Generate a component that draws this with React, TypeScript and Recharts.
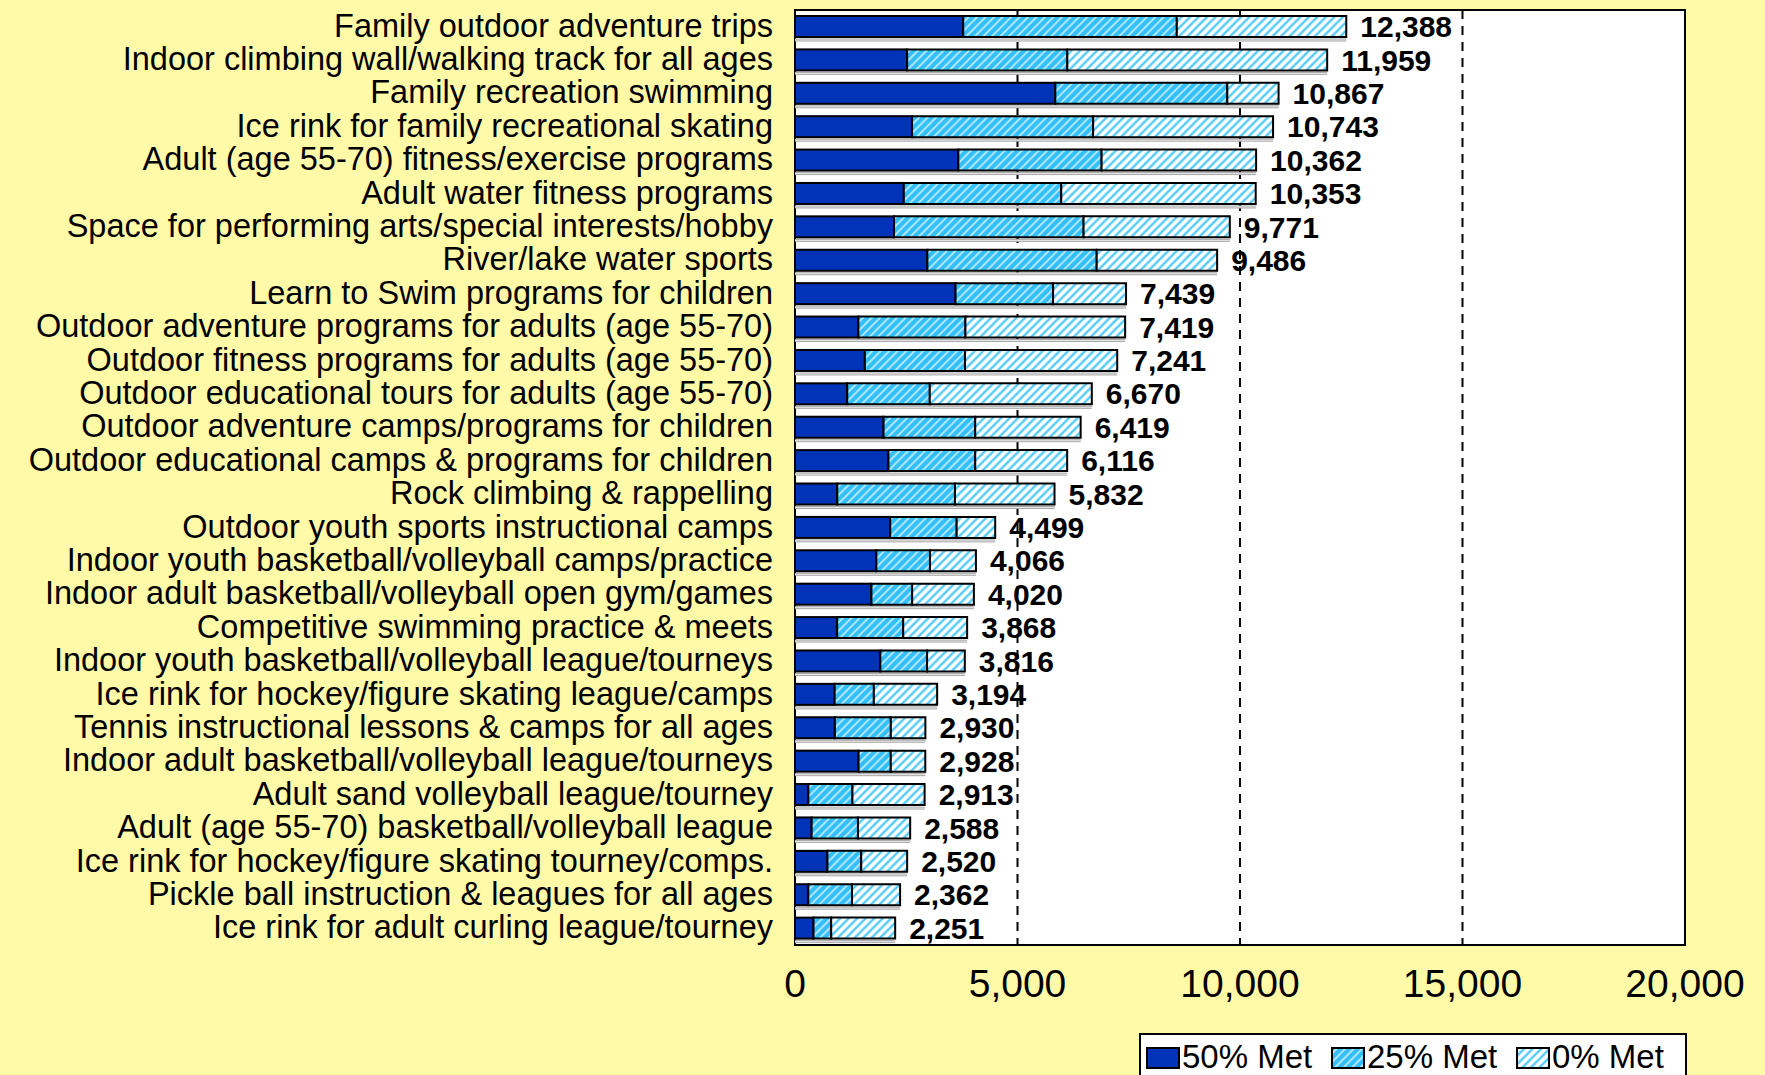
import React from 'react';
import { BarChart, Bar, XAxis, YAxis, CartesianGrid, LabelList, ReferenceArea } from 'recharts';

const FONT = "'Liberation Sans', Arial, sans-serif";

const categories = [
  'Family outdoor adventure trips',
  'Indoor climbing wall/walking track for all ages',
  'Family recreation swimming',
  'Ice rink for family recreational skating',
  'Adult (age 55-70) fitness/exercise programs',
  'Adult water fitness programs',
  'Space for performing arts/special interests/hobby',
  'River/lake water sports',
  'Learn to Swim programs for children',
  'Outdoor adventure programs for adults (age 55-70)',
  'Outdoor fitness programs for adults (age 55-70)',
  'Outdoor educational tours for adults (age 55-70)',
  'Outdoor adventure camps/programs for children',
  'Outdoor educational camps & programs for children',
  'Rock climbing & rappelling',
  'Outdoor youth sports instructional camps',
  'Indoor youth basketball/volleyball camps/practice',
  'Indoor adult basketball/volleyball open gym/games',
  'Competitive swimming practice & meets',
  'Indoor youth basketball/volleyball league/tourneys',
  'Ice rink for hockey/figure skating league/camps',
  'Tennis instructional lessons & camps for all ages',
  'Indoor adult basketball/volleyball league/tourneys',
  'Adult sand volleyball league/tourney',
  'Adult (age 55-70) basketball/volleyball league',
  'Ice rink for hockey/figure skating tourney/comps.',
  'Pickle ball instruction & leagues for all ages',
  'Ice rink for adult curling league/tourney',
];

const met50 = [3780, 2520, 5850, 2630, 3670, 2445, 2225, 2975, 3608, 1424, 1570, 1174, 1990, 2100, 950, 2140, 1828, 1718, 947, 1918, 891, 896, 1428, 300, 374, 729, 298, 416];
const met25 = [4800, 3600, 3865, 4070, 3220, 3538, 4260, 3805, 2192, 2406, 2250, 1855, 2060, 1950, 2645, 1493, 1205, 915, 1485, 1050, 881, 1258, 725, 991, 1041, 759, 983, 397];
const met0 = [3808, 5839, 1152, 4043, 3472, 4370, 3286, 2706, 1639, 3589, 3421, 3641, 2369, 2066, 2237, 866, 1033, 1387, 1436, 848, 1422, 776, 775, 1622, 1173, 1032, 1081, 1438];
const totals = [12388, 11959, 10867, 10743, 10362, 10353, 9771, 9486, 7439, 7419, 7241, 6670, 6419, 6116, 5832, 4499, 4066, 4020, 3868, 3816, 3194, 2930, 2928, 2913, 2588, 2520, 2362, 2251];

const xTicks = [0, 5000, 10000, 15000, 20000];

const series = [
  { key: 'm50', name: '50% Met', fill: '#0033B8' },
  { key: 'm25', name: '25% Met', fill: 'url(#hatch25)' },
  { key: 'm0', name: '0% Met', fill: 'url(#hatch0)' },
];

const rows = categories.map((name, i) => ({
  name,
  m50: met50[i],
  m25: met25[i],
  m0: met0[i],
  total: totals[i],
}));

const fmt = (v: number) => v.toLocaleString('en-US');

// first segment also draws the grey ledge under the whole bar
const FirstSegment = (props: any) => {
  const { x, y, width, height, payload, fill } = props;
  const full = payload && payload.m50 ? (width * payload.total) / payload.m50 : width;
  return (
    <g>
      <rect x={x} y={y + height + 1.5} width={full} height={3} fill="#a8a8a8" />
      <rect x={x} y={y + height + 2.5} width={full} height={1} fill="#e8e8e8" />
      <rect x={x} y={y} width={width} height={height} fill={fill} stroke="#000" strokeWidth={2} />
    </g>
  );
};

const CategoryTick = (props: any) => (
  <text x={props.x} y={props.y} dy={10} textAnchor="end" fontFamily={FONT} fontSize={32.5} fill="#000">
    {props.payload.value}
  </text>
);

const ValueTick = (props: any) => (
  <text x={props.x} y={props.y} dy={50} textAnchor="middle" fontFamily={FONT} fontSize={39} fill="#000">
    {fmt(props.payload.value)}
  </text>
);

export default function App() {
  return (
    <div style={{ position: 'relative', width: 1765, height: 1075, overflow: 'hidden', background: '#FFFAA8' }}>
      <style>{'body{margin:0}'}</style>
      <svg width={0} height={0} style={{ position: 'absolute' }}>
        <defs>
          <pattern id="hatch25" width={6} height={6} patternUnits="userSpaceOnUse" patternTransform="rotate(45)">
            <rect width={6} height={6} fill="#33C0FA" />
            <line x1={1} y1={0} x2={1} y2={6} stroke="#ffffff" strokeWidth={1.2} />
          </pattern>
          <pattern id="hatch0" width={6} height={6} patternUnits="userSpaceOnUse" patternTransform="rotate(45)">
            <rect width={6} height={6} fill="#ffffff" />
            <line x1={1.5} y1={0} x2={1.5} y2={6} stroke="#44C6F8" strokeWidth={2.2} />
          </pattern>
        </defs>
      </svg>
      <BarChart
        width={1765}
        height={1075}
        data={rows}
        layout="vertical"
        margin={{ top: 10, right: 80, bottom: 70, left: 0 }}
        barCategoryGap="18%"
      >
        <CartesianGrid horizontal={false} stroke="#000" strokeWidth={2} strokeDasharray="9 7" fill="#ffffff" />
        <XAxis
          type="number"
          domain={[0, 20000]}
          ticks={xTicks}
          axisLine={false}
          tickLine={false}
          tickSize={0}
          height={60}
          tick={ValueTick}
          interval={0}
        />
        <YAxis
          type="category"
          dataKey="name"
          width={795}
          axisLine={false}
          tickLine={false}
          tickSize={0}
          tickMargin={22}
          tick={CategoryTick}
          interval={0}
        />
        <Bar dataKey="m50" name={series[0].name} stackId="a" fill={series[0].fill} shape={FirstSegment} isAnimationActive={false} />
        <Bar dataKey="m25" name={series[1].name} stackId="a" fill={series[1].fill} stroke="#000" strokeWidth={2} isAnimationActive={false} />
        <Bar dataKey="m0" name={series[2].name} stackId="a" fill={series[2].fill} stroke="#000" strokeWidth={2} isAnimationActive={false}>
          <LabelList
            dataKey="total"
            position="right"
            offset={14}
            formatter={(v: any) => fmt(Number(v))}
            style={{ fontFamily: FONT, fontSize: 30, fontWeight: 'bold', fill: '#000' }}
          />
        </Bar>
        <ReferenceArea x1={0} x2={20000} fill="none" stroke="#000" strokeWidth={2} />
      </BarChart>
      <svg width={560} height={60} style={{ position: 'absolute', left: 1139, top: 1033 }}>
        <rect x={1} y={1} width={546} height={70} fill="#fff" stroke="#000" strokeWidth={2} />
        {series.map((s, i) => {
          const sx = [8, 193, 378][i];
          return (
            <g key={s.key}>
              <rect x={sx} y={15} width={32} height={20} fill={s.fill} stroke="#000" strokeWidth={2} />
              <text x={sx + 35} y={35} fontFamily={FONT} fontSize={33} fill="#000">{s.name}</text>
            </g>
          );
        })}
      </svg>
    </div>
  );
}
